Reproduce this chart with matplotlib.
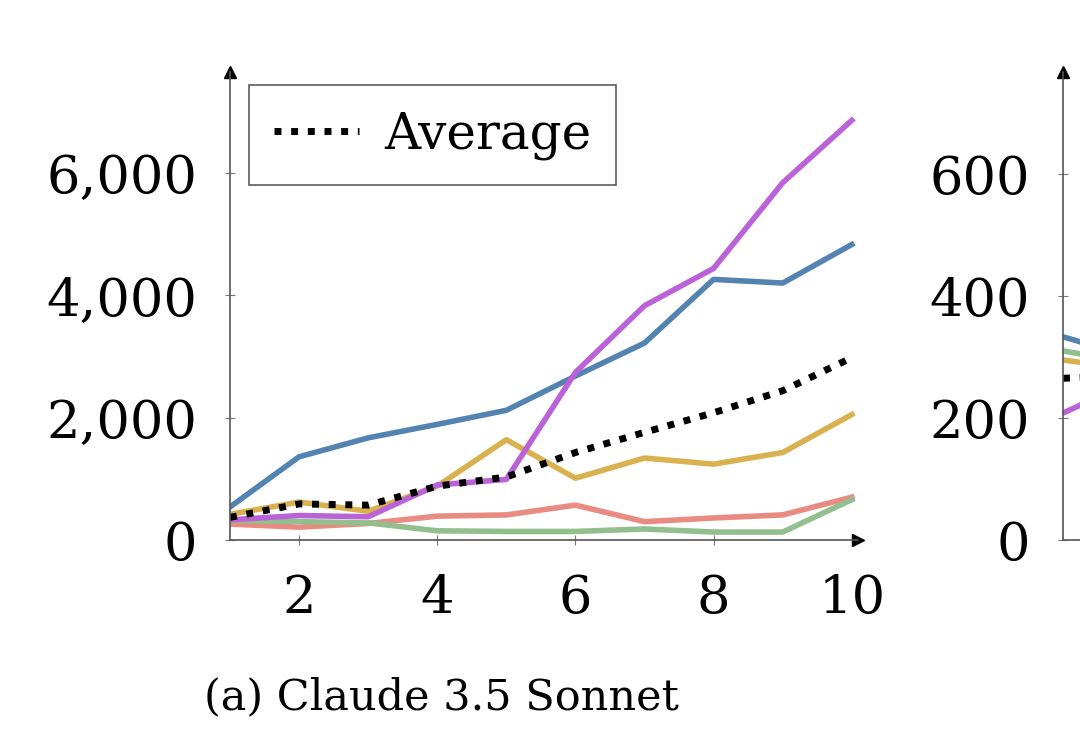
import numpy as np
import matplotlib
matplotlib.use("Agg")
import matplotlib.pyplot as plt

plt.rcParams['font.family'] = ['DejaVu Serif', 'Liberation Serif']

# data (panel a: Claude 3.5 Sonnet)
steps = [1, 2, 3, 4, 5, 6, 7, 8, 9, 10]
blue = [540, 1360, 1670, 1890, 2120, 2680, 3220, 4260, 4200, 4830]
purple = [330, 400, 380, 900, 990, 2740, 3830, 4440, 5840, 6860]
gold = [420, 620, 470, 880, 1640, 1010, 1340, 1240, 1430, 2050]
salmon = [260, 210, 270, 390, 410, 570, 300, 360, 410, 700]
green = [320, 300, 280, 150, 140, 140, 180, 130, 130, 660]
average = [370, 590, 570, 880, 1030, 1430, 1760, 2080, 2440, 2980]

# second panel, only its left edge shows
steps_b = [1, 2]
blue_b = [333, 300]
gold_b = [295, 280]
green_b = [310, 290]
purple_b = [208, 260]
average_b = [265, 270]

yticks_a = [0, 2000, 4000, 6000]
yticklabels_a = ["0", "2,000", "4,000", "6,000"]
xticks = [2, 4, 6, 8, 10]
yticks_b = [0, 200, 400, 600]

colors = {
    "blue": "#5383b1",
    "purple": "#bb62d8",
    "gold": "#d9b14f",
    "salmon": "#e98b80",
    "green": "#93bf8f",
}

W, H = 1080, 744
fig = plt.figure(figsize=(W / 100, H / 100), dpi=100)
fig.patch.set_facecolor("white")

left_px, right_px, bot_px, top_px = 230, 858, 540, 72
ax = fig.add_axes([left_px / W, 1 - bot_px / H, (right_px - left_px) / W, (bot_px - top_px) / H])
left_b = 1063
ax2 = fig.add_axes([left_b / W, 1 - bot_px / H, (right_px - left_px) / W, (bot_px - top_px) / H])


def style_axis(a):
    for s in ["top", "right"]:
        a.spines[s].set_visible(False)
    for s in ["left", "bottom"]:
        a.spines[s].set_color("#555555")
        a.spines[s].set_linewidth(1.2)
    a.tick_params(direction="inout", length=7, width=0.8, color="#777777", labelsize=38)
    a.tick_params(axis="y", pad=20)
    a.tick_params(axis="x", pad=20)
    a.plot(0, 1, marker="^", color="black", markersize=8, transform=a.transAxes, clip_on=False)
    a.plot(1, 0, marker=">", color="black", markersize=8, transform=a.transAxes, clip_on=False)
    a.set_facecolor("none")


lw = 4
series = [(salmon, "salmon"), (green, "green"), (gold, "gold"), (blue, "blue"), (purple, "purple")]
for vals, c in series:
    ax.plot(steps, vals, color=colors[c], lw=lw)
ax.plot(steps, average, color="black", lw=5, linestyle=(0, (1.0, 1.4)), label="Average")

ax.set_xlim(1, 10.09)
ax.set_ylim(0, 7650)
ax.set_xticks(xticks)
ax.set_yticks(yticks_a)
ax.set_yticklabels(yticklabels_a)
style_axis(ax)

leg = ax.legend(loc="upper left", bbox_to_anchor=(0.03, 0.972), borderaxespad=0,
                fontsize=36, frameon=True, fancybox=False, handlelength=1.7,
                handletextpad=0.5, borderpad=0.5)
leg.get_frame().set_edgecolor("#333333")
leg.get_frame().set_linewidth(1.2)

for vals, c in [(gold_b, "gold"), (green_b, "green"), (blue_b, "blue"), (purple_b, "purple")]:
    ax2.plot(steps_b, vals, color=colors[c], lw=lw)
ax2.plot(steps_b, average_b, color="black", lw=5, linestyle=(0, (1.0, 1.4)))
ax2.set_xlim(1, 10.09)
ax2.set_ylim(0, 767)
ax2.set_xticks(xticks)
ax2.set_xticklabels([])
ax2.set_yticks(yticks_b)
style_axis(ax2)

fig.text(441 / W, 1 - 697 / H, "(a) Claude 3.5 Sonnet", ha="center", va="center", fontsize=31)

fig.savefig("out.png", dpi=100, facecolor="white")
